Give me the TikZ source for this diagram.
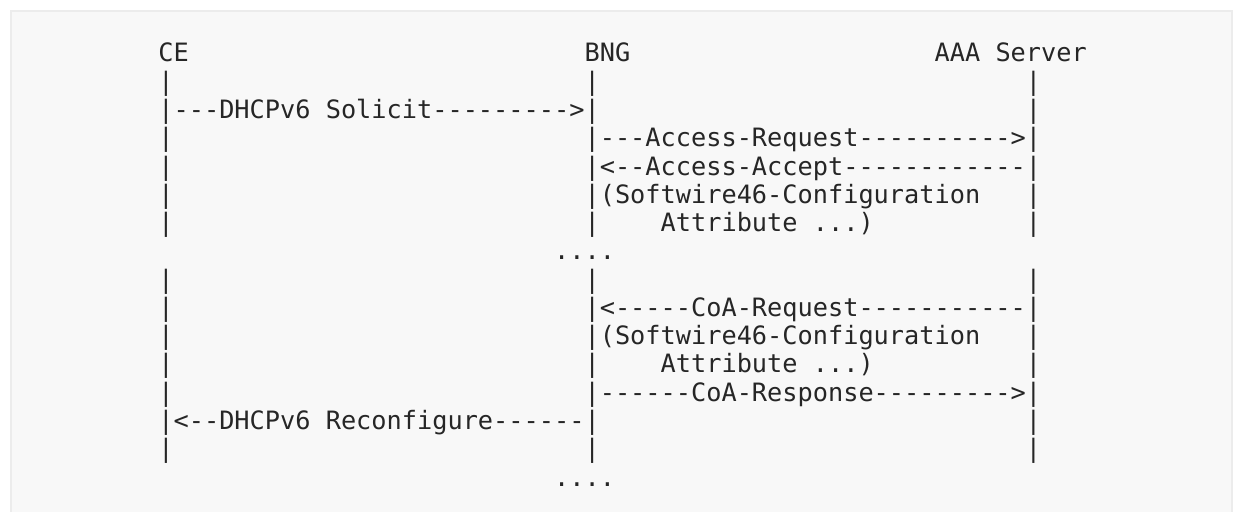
\documentclass[tikz,border=0pt]{standalone}
\usepackage{fontspec}
\setmonofont{DejaVu Sans Mono}
\definecolor{boxfill}{HTML}{F8F8F8}
\definecolor{boxedge}{HTML}{ECECEC}
\definecolor{ink}{HTML}{262626}
\begin{document}
\begin{tikzpicture}[
  txt/.style={font=\ttfamily\fontsize{25.28pt}{30pt}\selectfont, text=ink,
    anchor=base west, inner sep=0pt, outer sep=0pt},
  panel/.style={fill=boxfill, draw=boxedge, line width=2pt}
]
\useasboundingbox (0pt,0pt) rectangle (1233pt,-511pt);
\begin{scope}
\clip (0pt,0pt) rectangle (1233pt,-511pt);
\draw[panel] (11pt,-11pt) rectangle (1232pt,-560pt);
\end{scope}
\begin{scope}[x=15.22pt, y=-28.27pt, shift={(158.4pt,-62pt)}]
% row 0: headers
\node[txt] (ce)  at (0,0)  {CE};
\node[txt] (bng) at (28,0) {BNG};
\node[txt] (aaa) at (51,0) {AAA Server};
% row 1
\node[txt] (r1a) at (0,1)  {|};
\node[txt] (r1b) at (28,1) {|};
\node[txt] (r1c) at (57,1) {|};
% row 2
\node[txt] (solicit) at (0,2) {|---DHCPv6 Solicit--------->|};
\node[txt] (r2c) at (57,2) {|};
% row 3
\node[txt] (r3a) at (0,3) {|};
\node[txt] (accreq) at (28,3) {|---Access-Request---------->|};
% row 4
\node[txt] (r4a) at (0,4) {|};
\node[txt] (accacc) at (28,4) {|<--Access-Accept------------|};
% row 5
\node[txt] (r5a) at (0,5) {|};
\node[txt] (sw1) at (28,5) {|(Softwire46-Configuration};
\node[txt] (r5c) at (57,5) {|};
% row 6
\node[txt] (r6a) at (0,6) {|};
\node[txt] (r6b) at (28,6) {|};
\node[txt] (attr1) at (33,6) {Attribute ...)};
\node[txt] (r6c) at (57,6) {|};
% row 7
\node[txt] (dots1) at (26,7) {....};
% row 8
\node[txt] (r8a) at (0,8)  {|};
\node[txt] (r8b) at (28,8) {|};
\node[txt] (r8c) at (57,8) {|};
% row 9
\node[txt] (r9a) at (0,9) {|};
\node[txt] (coareq) at (28,9) {|<-----CoA-Request-----------|};
% row 10
\node[txt] (r10a) at (0,10) {|};
\node[txt] (sw2) at (28,10) {|(Softwire46-Configuration};
\node[txt] (r10c) at (57,10) {|};
% row 11
\node[txt] (r11a) at (0,11) {|};
\node[txt] (r11b) at (28,11) {|};
\node[txt] (attr2) at (33,11) {Attribute ...)};
\node[txt] (r11c) at (57,11) {|};
% row 12
\node[txt] (r12a) at (0,12) {|};
\node[txt] (coaresp) at (28,12) {|------CoA-Response--------->|};
% row 13
\node[txt] (reconf) at (0,13) {|<--DHCPv6 Reconfigure------|};
\node[txt] (r13c) at (57,13) {|};
% row 14
\node[txt] (r14a) at (0,14)  {|};
\node[txt] (r14b) at (28,14) {|};
\node[txt] (r14c) at (57,14) {|};
% row 15
\node[txt] (dots2) at (26,15) {....};
\end{scope}
\end{tikzpicture}
\end{document}
